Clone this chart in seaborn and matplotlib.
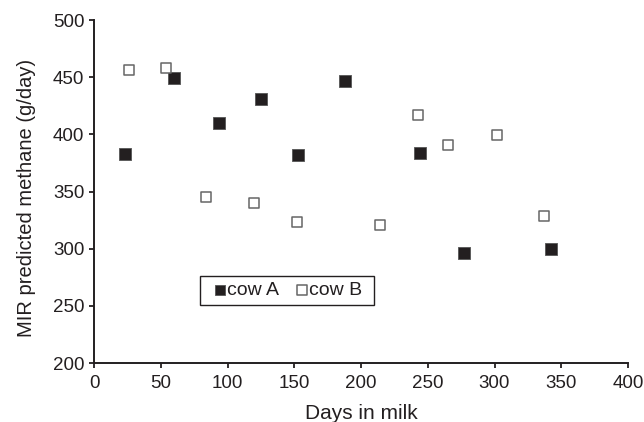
import matplotlib
matplotlib.use("Agg")
import matplotlib.pyplot as plt
from matplotlib.patches import Rectangle
import seaborn as sns
import pandas as pd

days_a = [23, 60, 94, 125, 153, 188, 244, 277, 342]
ch4_a = [383, 449, 410, 431, 382, 447, 384, 296, 300]
days_b = [26, 54, 84, 120, 152, 214, 243, 265, 302, 337]
ch4_b = [456, 458, 345, 340, 323, 321, 417, 391, 399, 329]

x_ticks = [0, 50, 100, 150, 200, 250, 300, 350, 400]
y_ticks = [200, 250, 300, 350, 400, 450, 500]

sns.set_theme(style="ticks")
plt.rcParams['font.family'] = ['Liberation Sans', 'DejaVu Sans']
ink = "#231f20"
plt.rcParams['text.color'] = ink
plt.rcParams['axes.labelcolor'] = ink
plt.rcParams['xtick.color'] = ink
plt.rcParams['ytick.color'] = ink
plt.rcParams['axes.edgecolor'] = ink

df_a = pd.DataFrame({"days": days_a, "ch4": ch4_a})
df_b = pd.DataFrame({"days": days_b, "ch4": ch4_b})

fig = plt.figure(figsize=(6.44, 4.22), dpi=100)
ax = fig.add_axes([94/644, 1-363/422, 534/644, 343/422])

sns.scatterplot(data=df_a, x="days", y="ch4", ax=ax, marker="s", s=72,
                color=ink, edgecolor="#555555", linewidth=0.6, label="cow A", zorder=3)
sns.scatterplot(data=df_b, x="days", y="ch4", ax=ax, marker="s", s=62,
                color="white", edgecolor="#666666", linewidth=1.1, label="cow B", zorder=3)

ax.set_xlim(0, 400)
ax.set_ylim(200, 500)
ax.set_xticks(x_ticks)
ax.set_yticks(y_ticks)
ax.tick_params(axis='both', labelsize=13.5, width=1.3)
ax.tick_params(axis='x', length=3.5, pad=5)
ax.tick_params(axis='y', length=3.5, pad=3.5)
for sp in ['left', 'bottom']:
    ax.spines[sp].set_linewidth(1.4)
sns.despine(ax=ax)

ax.set_xlabel("Days in milk", fontsize=15, labelpad=8.5)
ax.set_ylabel("MIR predicted methane (g/day)", fontsize=14.5)
ax.yaxis.set_label_coords(-0.108, 0.4825)

handles, labels = ax.get_legend_handles_labels()
leg = ax.legend(handles, labels, ncol=2, loc="center left",
                bbox_to_anchor=(0.2266, 0.2114),
                fontsize=14, frameon=False,
                handlelength=0.5, handletextpad=0.1, columnspacing=0.95,
                borderpad=0, markerscale=0.85, borderaxespad=0)
ax.add_patch(Rectangle((0.1985, 0.169), 0.326, 0.0845, transform=ax.transAxes,
                       fill=False, edgecolor=ink, linewidth=1.0, zorder=4))

fig.savefig("out.png", dpi=100)
